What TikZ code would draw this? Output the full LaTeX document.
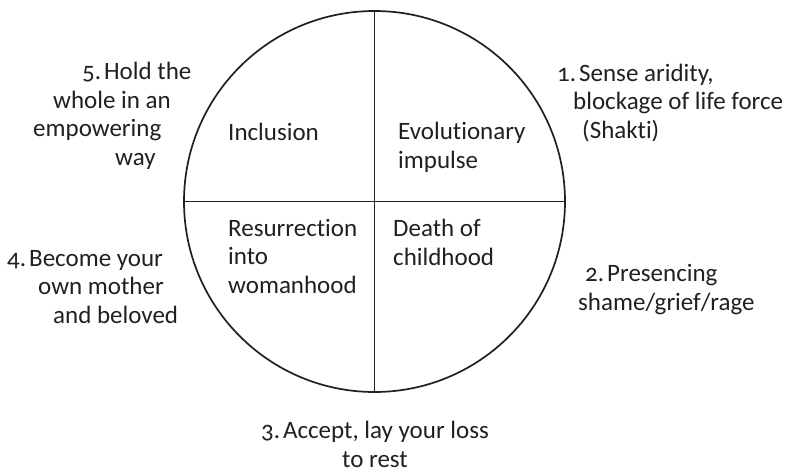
\documentclass[tikz,border=0pt]{standalone}
\usepackage{fontspec}
\setmainfont[Numbers=OldStyle, Ligatures=NoCommon]{Carlito}
\definecolor{ink}{RGB}{35,31,32}
\usetikzlibrary{positioning}

\tikzset{
  wheelline/.style={draw=ink, line width=1.4pt},
  quad/.style={text=ink, inner sep=0pt, anchor=base west, align=left,
    font=\fontsize{25}{28.5}\selectfont},
  stage/.style={text=ink, inner sep=0pt, anchor=base west, align=left,
    font=\fontsize{25}{28.5}\selectfont},
}
\newcommand{\nsp}{\hspace{3pt}}

\begin{document}
\begin{tikzpicture}[x=1pt, y=-1pt]
  \useasboundingbox (0,0) rectangle (791,472);

  % the wheel and its four quarters
  \node[circle, draw=ink, line width=1.7pt, inner sep=0pt, minimum size=381pt] (wheel) at (374.5,201.5) {};
  \draw[wheelline] (wheel.north) -- (wheel.south);
  \draw[wheelline] (wheel.west) -- (wheel.east);

  % quarter labels (placed at the baseline of their last line)
  \node[quad] (inclusion) at (228,140) {Inclusion};
  \node[quad] (evolution) at (398,168) {Evolutionary\\impulse};
  \node[quad] (resurrection) at (228,293) {Resurrection\\into\\womanhood};
  \node[quad] (death) at (393,265) {Death of\\childhood};

  % the five steps round the wheel
  \node[stage] (step1) at (557,138) {1.\nsp Sense aridity,\\\hspace*{16pt}blockage of life force\\\hspace*{25pt}(Shakti)};
  \node[stage] (step2) at (578,310) {\hspace*{7pt}2.\nsp Presencing\\shame/grief/rage};
  \node[stage, anchor=base, align=center] (step3) at (375,467) {3.\nsp Accept, lay your loss\\to rest};
  \node[stage] (step4) at (7,323) {4.\nsp Become your\\\hspace*{31pt}own mother\\\hspace*{46pt}and beloved};
  \node[stage] (step5) at (33,165) {\hspace*{49pt}5.\nsp Hold the\\\hspace*{20pt}whole in an\\empowering\\\hspace*{82pt}way};
\end{tikzpicture}
\end{document}
